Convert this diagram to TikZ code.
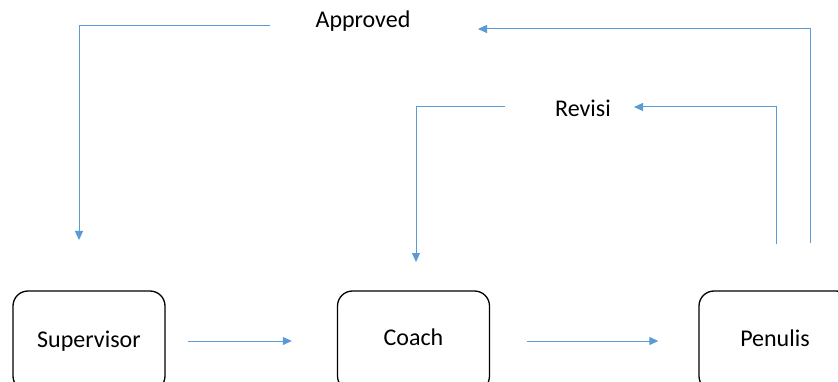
\documentclass[tikz,border=0pt]{standalone}
\usepackage{fontspec}
\setmainfont{Carlito}
\usetikzlibrary{arrows.meta}
\definecolor{flowblue}{RGB}{91,155,213}
\tikzset{
  actor/.style={draw=black, line width=1.3pt, rounded corners=15pt, minimum width=152pt, minimum height=100pt, inner sep=0pt, font=\fontsize{24}{28}\selectfont},
  flow/.style={draw=flowblue, line width=1pt, -{Triangle[length=9pt,width=8pt]}},
  lbl/.style={inner sep=0pt, font=\fontsize{24}{28}\selectfont}
}
\begin{document}
\begin{tikzpicture}[x=1pt,y=-1pt]
\useasboundingbox (0,0) rectangle (838,382);
\clip (0,0) rectangle (838,382);
% actors
\node[actor] (sup) at (89,341) {Supervisor};
\node[actor] (coach) at (413.5,341) {\raisebox{4pt}[\height][\depth]{Coach}};
\node[actor] (pen) at (775,341) {\raisebox{3pt}[\height][\depth]{Penulis}};
% labels
\node[lbl] (appr) at (363,21) {Approved};
\node[lbl] (rev) at (583,108) {Revisi};
% free ends
\coordinate (a1) at (270,26);
\coordinate (a2) at (79,26);
\coordinate (a3) at (79,240);
\coordinate (b1) at (810,243);
\coordinate (b2) at (810,29);
\coordinate (b3) at (478,29);
\coordinate (r1) at (505,107);
\coordinate (r2) at (416,107);
\coordinate (r3) at (416,262);
\coordinate (c1) at (776,244);
\coordinate (c2) at (776,107);
\coordinate (c3) at (634,107);
% horizontal flow
\draw[flow] ([xshift=22pt]sup.east) -- ([xshift=-45pt]coach.west);
\draw[flow] ([xshift=37pt]coach.east) -- ([xshift=-40pt]pen.west);
% loops
\draw[flow] (a1) -- (a2) -- (a3);
\draw[flow] (b1) -- (b2) -- (b3);
\draw[flow] (r1) -- (r2) -- (r3);
\draw[flow] (c1) -- (c2) -- (c3);
\end{tikzpicture}
\end{document}
